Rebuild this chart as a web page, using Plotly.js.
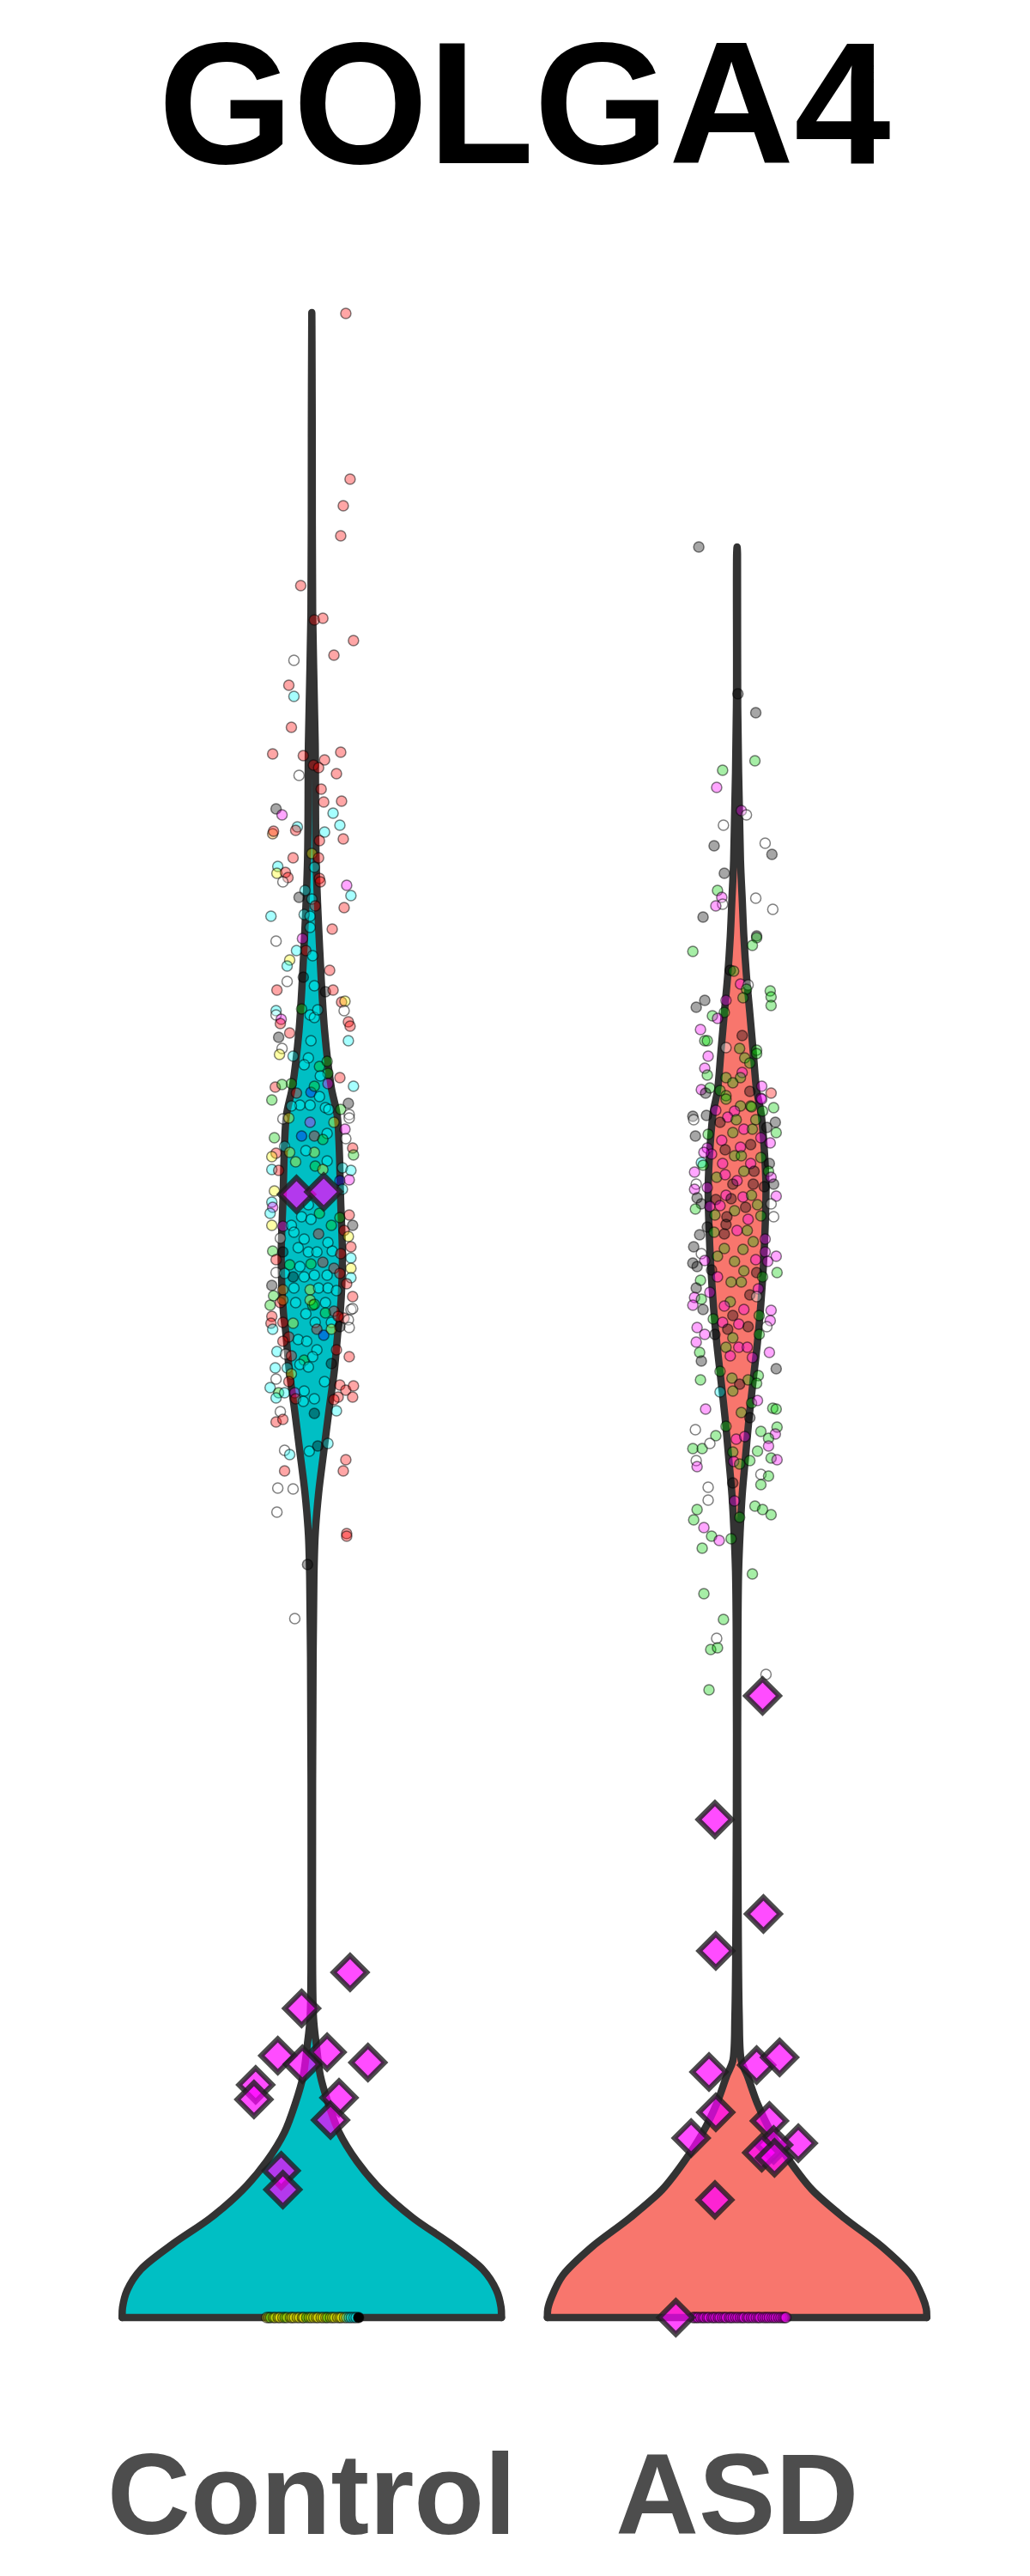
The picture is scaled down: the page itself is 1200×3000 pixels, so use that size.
<!DOCTYPE html>
<html><head><meta charset="utf-8">
<script src="https://cdn.plot.ly/plotly-3.0.1.min.js"></script>
<style>
html,body{margin:0;padding:0;background:#fff;}
#chart{width:1200px;height:3000px;}
.js-line{stroke-linejoin:round !important;stroke-linecap:round !important;}
</style></head><body><div id="chart"></div>
<script>
// ---------- categories ----------
const groups = ['Control', 'ASD'];
const groupPos = [1, 2];

// ---------- violin density profiles (y value, half width in x units) ----------
const ctrl_vy = [2.335,2.199,1.986,1.833,1.699,1.599,1.499,1.432,1.399,1.299,1.232,1.166,1.151,1.103,1.055,1.008,0.960,0.912,0.864,0.769,0.481,0.349,0.316,0.282,0.249,0.216,0.182,0.149,0.116,0.086,0.056,0.032,0.012,0];
const ctrl_vw = [0,0.001,0.002,0.008,0.010,0.018,0.030,0.046,0.060,0.068,0.072,0.066,0.062,0.053,0.040,0.028,0.016,0.008,0.005,0.003,0.0016,0.004,0.011,0.020,0.039,0.064,0.106,0.162,0.238,0.326,0.402,0.434,0.445,0.446];
const asd_vy = [2.062,2.054,1.876,1.697,1.653,1.608,1.563,1.519,1.474,1.429,1.404,1.360,1.315,1.270,1.226,1.181,1.136,1.092,1.047,1.003,0.958,0.913,0.869,0.799,0.599,0.353,0.299,0.282,0.249,0.216,0.182,0.149,0.116,0.082,0.049,0.024,0.010,0];
const asd_vw = [0,0.001,0.0015,0.008,0.012,0.016,0.022,0.030,0.038,0.046,0.056,0.064,0.068,0.066,0.062,0.056,0.048,0.038,0.028,0.020,0.012,0.007,0.0036,0.002,0.0016,0.005,0.010,0.024,0.048,0.080,0.124,0.176,0.252,0.342,0.410,0.436,0.445,0.446];

// ---------- cells (jitter offset, expression, sample colour code) ----------
const ctrl_dx = [
.080,.090,.074,.068,-.026,.006,.026,.098,.052,-.042,
-.054,-.042,-.048,-.092,-.020,.068,.030,.004,.016,.058,
-.030,.022,.028,.070,-.084,-.070,.050,-.034,-.038,-.092,
-.090,.030,.066,.018,.074,0,-.044,.016,-.080,-.082,
-.062,-.056,-.068,.006,.018,.020,.082,.092,-.016,-.030,
0,.008,.076,-.096,-.018,-.004,-.004,.048,-.084,-.022,
-.014,-.036,.002,-.052,-.058,.042,-.020,-.058,.006,-.082,
.032,.050,.070,.078,.076,-.084,-.084,-.072,-.074,-.004,
.006,.014,-.024,.086,.090,-.052,-.078,-.002,.086,-.070,
-.076,-.044,-.008,-.018,.018,.036,.038,.066,.020,-.048,
-.086,-.070,-.036,-.002,.006,.018,.038,.098,-.094,.086,
.068,.088,-.028,-.004,-.048,.032,.040,-.068,-.054,-.004,
.052,.088,.078,-.088,-.024,.006,.036,.026,.080,-.064,
.096,.098,-.084,-.094,-.052,.006,-.014,.036,-.038,.072,
.092,-.094,-.078,.008,.026,.066,.088,-.088,-.094,-.092,
-.098,.072,-.008,.018,-.094,-.068,-.048,-.024,-.002,.046,
.066,.088,.096,.076,.086,-.074,-.042,-.018,.016,.038,
.092,-.092,-.068,-.032,-.008,.012,.048,.068,.092,-.084,
-.052,-.028,-.002,.026,.052,.092,-.084,-.064,-.044,-.018,
.006,.036,.066,.092,.082,-.094,-.068,-.042,-.004,.016,
.038,.058,.096,-.098,-.074,-.038,.002,.032,.052,.092,
-.094,-.068,-.014,.008,.046,.076,-.090,-.068,.096,-.096,
-.092,.086,.088,.062,-.044,.032,-.004,.006,-.054,-.068,
-.032,.012,.028,.046,.066,-.012,-.082,-.062,.012,.058,
.088,-.048,-.018,-.028,.002,-.008,.046,-.086,-.058,-.048,
-.084,-.054,.030,-.098,-.078,-.084,-.064,-.040,-.038,-.018,
-.020,.006,.066,.080,.098,.096,.062,.052,.058,-.074,
-.084,-.068,.006,-.064,-.052,-.006,.014,.038,.080,.074,
-.064,-.080,-.044,-.082,.082,.082,-.010,-.040];
const ctrl_y = [
2.334,2.141,2.110,2.075,2.017,1.977,1.979,1.953,1.936,1.930,
1.901,1.888,1.852,1.821,1.819,1.823,1.814,1.808,1.805,1.798,
1.796,1.780,1.765,1.766,1.757,1.750,1.752,1.736,1.732,1.728,
1.731,1.730,1.738,1.720,1.722,1.705,1.700,1.700,1.690,1.682,
1.683,1.677,1.672,1.689,1.676,1.672,1.668,1.656,1.662,1.654,
1.652,1.644,1.642,1.632,1.634,1.632,1.619,1.617,1.603,1.606,
1.592,1.592,1.586,1.581,1.574,1.569,1.561,1.556,1.551,1.546,
1.544,1.546,1.532,1.533,1.522,1.522,1.517,1.512,1.507,1.517,
1.514,1.523,1.524,1.509,1.504,1.496,1.491,1.487,1.487,1.478,
1.471,1.469,1.467,1.459,1.457,1.463,1.449,1.444,1.446,1.437,
1.433,1.436,1.426,1.427,1.434,1.422,1.437,1.434,1.418,1.414,
1.407,1.401,1.412,1.412,1.411,1.409,1.407,1.396,1.397,1.392,
1.392,1.397,1.384,1.374,1.376,1.376,1.379,1.372,1.373,1.364,
1.362,1.354,1.356,1.352,1.357,1.357,1.359,1.347,1.346,1.339,
1.336,1.337,1.336,1.341,1.337,1.324,1.325,1.312,1.299,1.293,
1.286,1.314,1.296,1.286,1.272,1.271,1.272,1.282,1.279,1.272,
1.281,1.284,1.272,1.266,1.259,1.257,1.264,1.256,1.262,1.252,
1.247,1.242,1.241,1.246,1.241,1.241,1.242,1.239,1.234,1.232,
1.226,1.224,1.227,1.229,1.222,1.222,1.217,1.216,1.212,1.212,
1.214,1.214,1.216,1.211,1.204,1.202,1.197,1.199,1.197,1.199,
1.199,1.196,1.189,1.179,1.182,1.182,1.179,1.182,1.172,1.174,
1.166,1.159,1.169,1.159,1.159,1.164,1.190,1.185,1.175,1.158,
1.151,1.162,1.153,1.166,1.158,1.170,1.185,1.180,1.142,1.137,
1.139,1.151,1.144,1.151,1.154,1.137,1.125,1.122,1.127,1.127,
1.119,1.120,1.115,1.110,1.119,1.107,1.111,1.106,1.106,1.099,
1.093,1.090,1.090,1.083,1.077,1.071,1.077,1.077,1.070,1.079,
1.067,1.070,1.086,1.080,1.085,1.072,1.072,1.069,1.056,1.055,
1.043,1.046,1.053,1.010,1.005,1.009,1.015,1.018,0.999,0.986,
0.986,0.966,0.965,0.938,0.913,0.910,0.877,0.814];
const ctrl_col = ('rrrrrrrrrw'+'rcrrrrrrrr'+'wrrrkmccro'+'rccrryrrcy'+'rrwcrrmcck'+'crrccccrwm'+'rccycrkwcr'+'krrywcwmrc'+'ccgrrrkccw'+'ycccgggrcg'+
'rgrbgcmcgk'+'gwcccccwym'+'ywmgbrcgwc'+'rgryyyccyc'+'ccrgybmycm'+'cccgymcccg'+'grkrywccrc'+'rgkccccrcr'+'gcgrrywckc'+'ccrcrkocyc'+
'ccrgrcgcrw'+'rrcccrgowr'+'cwwrygygrr'+'crbykccwcr'+'rrgccckccy'+'wrccgccmrc'+'ccrrrrrrcw'+'rrkwcckcrr'+'rwwwrrkw').split('');

const asd_dx = [
-.090,.002,.044,.042,-.034,-.048,.010,.022,-.032,-.054,
.066,.082,-.030,-.046,-.036,-.034,-.050,.044,.084,-.080,
.046,.046,.036,-.104,-.016,-.008,.008,.026,.022,.014,
.078,.080,.080,-.076,-.096,-.026,-.030,-.058,-.046,-.086,
-.076,-.070,.012,-.026,.006,.046,.046,.018,.030,-.068,
-.076,-.070,.012,.008,-.026,-.010,-.084,-.064,-.074,-.040,
-.026,.058,.080,.030,.056,.086,.060,.032,.008,-.050,
-.104,-.026,.058,.034,-.006,-.102,-.072,-.022,-.040,-.002,
.044,.090,.070,.092,-.098,-.068,-.010,.016,.036,-.036,
.056,.078,-.070,.032,-.028,.008,-.060,-.078,-.006,-.084,
-.080,-.034,.010,.056,.032,.076,-.100,-.048,-.028,.016,
.040,.074,.080,.086,-.096,0,-.100,-.070,-.010,.038,
.064,.092,-.094,-.026,-.050,.014,.034,-.014,-.084,.080,
-.098,-.064,-.040,.020,.048,-.006,-.052,.056,.086,.026,
-.024,-.070,-.026,0,.024,-.088,-.054,.066,.038,-.030,
-.102,-.030,.014,.066,-.084,-.076,.092,-.046,-.006,.044,
-.104,-.094,.072,.094,-.060,-.046,.016,.046,.060,-.086,
-.014,.010,-.096,.050,-.064,.030,.046,-.100,-.084,-.104,
-.016,-.030,.016,.080,-.080,-.010,.052,.078,-.056,-.034,
.004,.026,-.094,-.076,-.052,-.022,.052,.070,-.010,-.096,
-.026,.004,.024,.076,-.088,-.016,.036,-.084,.092,-.040,
.050,-.012,.026,-.086,.006,.046,-.040,-.010,.034,.048,
-.074,.084,.092,.010,.030,-.098,-.026,-.050,.056,.094,
.090,.074,-.104,-.082,-.064,-.002,.018,.074,.048,-.010,
-.096,.080,.094,-.094,-.008,.006,.030,.056,.074,.056,
-.010,-.068,-.068,-.006,-.094,-.102,.042,.060,.080,.006,
-.078,-.060,-.042,-.014,-.082,.036,-.078,-.032,-.048,-.062,
-.046,-.066,.068];
const asd_y = [
2.062,1.891,1.869,1.813,1.802,1.782,1.755,1.750,1.738,1.714,
1.717,1.704,1.682,1.662,1.654,1.646,1.644,1.653,1.640,1.631,
1.609,1.607,1.598,1.591,1.569,1.568,1.553,1.552,1.547,1.537,
1.545,1.538,1.528,1.534,1.526,1.534,1.520,1.516,1.513,1.500,
1.487,1.487,1.493,1.479,1.478,1.476,1.472,1.467,1.461,1.469,
1.455,1.447,1.450,1.444,1.444,1.438,1.430,1.432,1.426,1.429,
1.423,1.434,1.426,1.428,1.420,1.409,1.405,1.411,1.411,1.406,
1.399,1.419,1.419,1.410,1.405,1.395,1.400,1.398,1.392,1.395,
1.395,1.392,1.386,1.380,1.376,1.378,1.380,1.384,1.384,1.371,
1.374,1.368,1.362,1.366,1.360,1.363,1.355,1.357,1.353,1.345,
1.342,1.344,1.353,1.351,1.344,1.344,1.334,1.328,1.331,1.335,
1.335,1.335,1.328,1.320,1.320,1.324,1.314,1.316,1.320,1.320,
1.317,1.306,1.304,1.307,1.302,1.305,1.307,1.303,1.297,1.297,
1.291,1.294,1.295,1.293,1.296,1.289,1.284,1.283,1.282,1.279,
1.282,1.270,1.273,1.266,1.266,1.261,1.264,1.256,1.253,1.262,
1.247,1.245,1.244,1.241,1.239,1.231,1.236,1.236,1.230,1.232,
1.228,1.224,1.230,1.217,1.220,1.212,1.219,1.217,1.212,1.208,
1.206,1.206,1.199,1.198,1.194,1.191,1.189,1.188,1.186,1.179,
1.183,1.178,1.174,1.173,1.174,1.167,1.167,1.161,1.163,1.159,
1.157,1.154,1.153,1.145,1.145,1.151,1.145,1.154,1.141,1.136,
1.130,1.130,1.130,1.124,1.124,1.120,1.118,1.114,1.105,1.102,
1.097,1.094,1.092,1.092,1.087,1.088,1.078,1.079,1.065,1.068,
1.058,1.059,1.058,1.054,1.048,1.034,1.038,1.027,1.032,1.037,
1.029,1.024,1.012,1.012,1.018,1.023,1.026,1.015,1.009,1.008,
0.998,1.001,0.999,0.991,0.997,0.994,0.998,0.982,0.980,0.970,
0.972,0.967,0.952,0.951,0.941,0.929,0.945,0.941,0.935,0.932,
0.920,0.910,0.905,0.907,0.896,0.866,0.843,0.813,0.791,0.778,
0.780,0.731,0.749];
const asd_col = ('kkkggmmwwk'+'wkkgmwmwwk'+'kgggkgmwgg'+'gggkkmggmm'+'ggkwgggggm'+'mgmgggmgkg'+'gmrkmggggm'+'kgmgmwkmkg'+'gkkgkggmgm'+'mmmkkmmmgc'+
'gmggmkmgmg'+'kgmkwmmmkk'+'kmkmkmgkkw'+'gmmkggggwm'+'kkkmgkgmgk'+'kggmwmmggm'+'kkmgkmgkgg'+'ggkmmkwmgm'+'gmmmkkgmgm'+'mkmmkkgwgm'+
'gmmmgmmkkg'+'ggggkgcggm'+'mgggkwgggg'+'mgggwmmmgg'+'wgmmmggwgg'+'kwwmgggggg'+'mgmgggggwg'+'ggw').split('');

// cells with zero expression
const ctrl0_dx = [-0.106,-0.101,-0.097,-0.090,-0.086,-0.079,-0.075,-0.068,-0.063,-0.058,-0.050,-0.046,-0.041,-0.034,-0.029,-0.022,-0.019,-0.012,-0.006,-0.001,0.005,0.011,0.015,0.022,0.027,0.033,0.037,0.044,0.049,0.054,0.061,0.066,0.070,0.077,0.082,0.088,0.093,0.099,0.104,0.110];
const ctrl0_col = 'yygyyyyygyyyyyyyygyyyyyyyygyyyyyyyccccc'.split('');
const asd0_dx = [-0.104,-0.100,-0.095,-0.091,-0.085,-0.080,-0.076,-0.070,-0.066,-0.059,-0.055,-0.050,-0.044,-0.040,-0.034,-0.029,-0.025,-0.018,-0.014,-0.009,-0.003,0.002,0.008,0.013,0.017,0.024,0.028,0.034,0.039,0.045,0.050,0.054,0.061,0.066,0.071,0.076,0.082,0.087,0.092,0.098,0.103,0.108,0.112,0.115];

// ---------- per-sample means (diamonds) ----------
const ctrl_mean_dx = [-.036,.028,.090,-.024,-.080,.036,-.022,.132,-.132,-.136,.064,.044,-.072,-.068];
const ctrl_mean_y  = [1.308,1.311,0.402,0.360,0.305,0.309,0.295,0.297,0.271,0.254,0.256,0.230,0.171,0.149];
const asd_mean_dx  = [.060,-.052,.062,-.050,-.066,.046,.100,-.050,-.108,.076,.144,.086,.058,.088,-.052,-.144];
const asd_mean_y   = [0.724,0.580,0.470,0.427,0.286,0.294,0.303,0.239,0.209,0.229,0.203,0.201,0.192,0.186,0.137,0];

// ---------- styles ----------
const violinFill = ['#00BFC4', '#F8766D'];
const palette = {r:'255,0,0', c:'0,255,255', w:'255,255,255', k:'0,0,0', g:'0,205,0', y:'255,255,0', m:'255,0,255', o:'255,140,0', b:'0,0,255'};
const FONT = 'Liberation Sans, Arial, Helvetica, sans-serif';
const OUTLINE = '#333333';

// curved sides of the violin (spline); the fill closes straight along the base
function violinSides(pos, vy, vw, fill) {
  const xs = [], ys = [];
  for (let i = vy.length - 1; i >= 0; i--) { xs.push(pos + vw[i]); ys.push(vy[i]); }
  for (let i = 1; i < vy.length; i++) { xs.push(pos - vw[i]); ys.push(vy[i]); }
  return {type:'scatter', mode:'lines', x:xs, y:ys, fill:'toself', fillcolor:fill,
          line:{color:OUTLINE, width:8.5, shape:'spline', smoothing:0.9}, hoverinfo:'skip'};
}
// flat base of the violin
function violinBase(pos, vy, vw) {
  const n = vy.length - 1;
  return {type:'scatter', mode:'lines', x:[pos - vw[n], pos + vw[n]], y:[vy[n], vy[n]],
          line:{color:OUTLINE, width:8.5}, hoverinfo:'skip'};
}
function pointTrace(pos, dx, y, col) {
  return {type:'scatter', mode:'markers', x:dx.map(d => pos + d), y:y,
    marker:{size:12, color:col.map(c => 'rgba(' + palette[c] + ',0.35)'),
            line:{color:'rgba(0,0,0,0.5)', width:1.5}}};
}
function meanTrace(pos, dx, y) {
  return {type:'scatter', mode:'markers', x:dx.map(d => pos + d), y:y,
    marker:{symbol:'diamond', size:30, color:'rgba(255,0,255,0.7)',
            line:{color:'rgba(30,30,30,0.8)', width:6}}};
}

const traces = [
  violinSides(groupPos[0], ctrl_vy, ctrl_vw, violinFill[0]),
  violinBase(groupPos[0], ctrl_vy, ctrl_vw),
  violinSides(groupPos[1], asd_vy, asd_vw, violinFill[1]),
  violinBase(groupPos[1], asd_vy, asd_vw),
  pointTrace(groupPos[0], ctrl_dx, ctrl_y, ctrl_col),
  pointTrace(groupPos[1], asd_dx, asd_y, asd_col),
  pointTrace(groupPos[0], ctrl0_dx, ctrl0_dx.map(() => 0), ctrl0_col),
  pointTrace(groupPos[1], asd0_dx, asd0_dx.map(() => 0), asd0_dx.map(() => 'm')),
  meanTrace(groupPos[0], ctrl_mean_dx, ctrl_mean_y),
  meanTrace(groupPos[1], asd_mean_dx, asd_mean_y)
];

const layout = {
  width:1200, height:3000,
  margin:{l:66, r:44, t:247, b:184},
  paper_bgcolor:'#ffffff', plot_bgcolor:'#ffffff',
  showlegend:false,
  title:{text:'GOLGA4', font:{family:FONT, size:202, color:'#000000', weight:'bold'},
         x:0.5, xref:'paper', xanchor:'center', y:0.9603, yref:'container', yanchor:'middle'},
  xaxis:{range:[0.4, 2.6], tickvals:groupPos, ticktext:groups, ticks:'',
         tickfont:{family:FONT, size:134, color:'#4D4D4D', weight:'bold'},
         ticklabelstandoff:0,
         showgrid:false, zeroline:false, showline:false, fixedrange:true},
  yaxis:{range:[-0.117, 2.452], visible:false, showgrid:false, zeroline:false, fixedrange:true}
};

Plotly.newPlot('chart', traces, layout, {staticPlot:true, displayModeBar:false});
</script></body></html>
